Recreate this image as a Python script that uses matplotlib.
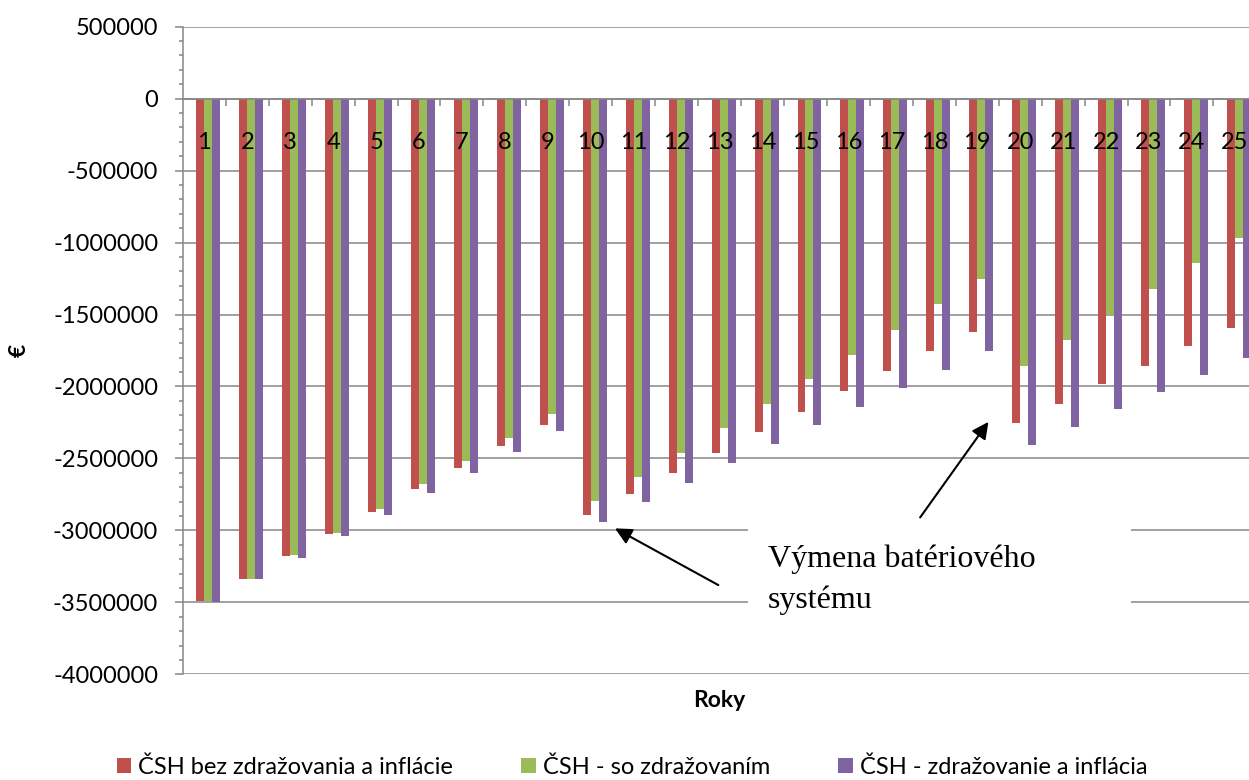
import numpy as np
import matplotlib
matplotlib.use('Agg')
from matplotlib import pyplot as plt
from matplotlib.patches import Rectangle
from matplotlib.ticker import MultipleLocator, FixedLocator, FixedFormatter, NullFormatter, FuncFormatter

roky = list(range(1, 26))

# hodnoty odcitane z grafu (EUR)
bez_zdrazovania = [-3490000, -3335000, -3180000, -3025000, -2870000, -2715000, -2565000, -2415000, -2270000,
                   -2895000, -2745000, -2600000, -2460000, -2315000, -2175000, -2030000, -1895000, -1755000,
                   -1620000, -2255000, -2120000, -1985000, -1855000, -1720000, -1595000]
so_zdrazovanim = [-3490000, -3335000, -3170000, -3015000, -2850000, -2680000, -2520000, -2355000, -2190000,
                  -2795000, -2630000, -2460000, -2290000, -2125000, -1950000, -1780000, -1605000, -1430000,
                  -1255000, -1855000, -1680000, -1505000, -1325000, -1145000, -965000]
zdrazovanie_inflacia = [-3495000, -3340000, -3190000, -3040000, -2890000, -2740000, -2600000, -2455000, -2310000,
                        -2945000, -2805000, -2670000, -2535000, -2400000, -2265000, -2140000, -2010000, -1885000,
                        -1755000, -2405000, -2280000, -2160000, -2040000, -1920000, -1805000]

nazvy = ['ČSH bez zdražovania a inflácie', 'ČSH - so zdražovaním', 'ČSH - zdražovanie a inflácia']
farby = ['#C0504D', '#9BBB59', '#8064A2']
seda = '#868686'

plt.rcParams['font.family'] = ['Lato', 'DejaVu Sans']
plt.rcParams['axes.unicode_minus'] = False

fig = plt.figure(figsize=(12.49, 7.8), dpi=100)
ax = fig.add_axes([0.1464, 0.1355, 0.8595, 0.8303])   # prava strana presahuje obrazok

x = np.array(roky)
w = 0.186
posun = 0.093
for i, (hodnoty, nazov, farba) in enumerate(zip([bez_zdrazovania, so_zdrazovanim, zdrazovanie_inflacia], nazvy, farby)):
    ax.bar(x + posun + (i - 1) * w, hodnoty, w, color=farba, label=nazov, zorder=2)

ax.set_xlim(0.5, 25.5)
ax.set_ylim(-4000000, 500000)
ax.yaxis.set_major_locator(MultipleLocator(500000))
ax.yaxis.set_minor_locator(MultipleLocator(100000))
ax.yaxis.set_major_formatter(FuncFormatter(lambda v, p: '%d' % v))
ax.grid(axis='y', which='major', color=seda, lw=1.1)
ax.set_axisbelow(True)
ax.xaxis.set_zorder(3)   # cisla rokov nad stlpcami

for s in ['top', 'right']:
    ax.spines[s].set_visible(False)
ax.spines['left'].set_color(seda)
ax.spines['left'].set_linewidth(1.1)
ax.spines['bottom'].set_position(('data', 0))
ax.spines['bottom'].set_color(seda)
ax.spines['bottom'].set_linewidth(1.1)

ax.xaxis.set_major_locator(FixedLocator(x + 0.5))
ax.xaxis.set_major_formatter(NullFormatter())
ax.xaxis.set_minor_locator(FixedLocator(x))
ax.xaxis.set_minor_formatter(FixedFormatter([str(r) for r in roky]))
ax.tick_params(axis='x', which='major', length=4.8, width=1.1, color=seda, direction='out')
ax.tick_params(axis='x', which='minor', length=0, pad=24, labelsize=17)
ax.tick_params(axis='y', which='major', length=5.8, width=1.1, color=seda, pad=12, labelsize=17)
ax.tick_params(axis='y', which='minor', length=2.9, width=1.1, color=seda)

ax.set_xlabel('Roky', fontsize=16.5, fontweight='bold')
ax.xaxis.set_label_coords(0.5, -0.024)
ax.set_ylabel('€', fontsize=16.5, fontweight='bold')
ax.yaxis.set_label_coords(-0.1423, 0.5)

# popis s bielym pozadim
ax.add_patch(Rectangle((13.66, -3762000), 8.92, 834000, facecolor='white', edgecolor='none', zorder=1))
ax.text(14.13, -3100000, 'Výmena batériového\nsystému', family=['Liberation Serif', 'DejaVu Serif'],
        fontsize=23, va='top', ha='left', linespacing=1.5, zorder=3)

sipka = dict(arrowstyle='-|>,head_length=0.5,head_width=0.25', color='black', lw=1.5,
             mutation_scale=20, shrinkA=0, shrinkB=0)
ax.annotate('', xy=(10.565, -2986000), xytext=(12.97, -3380000), arrowprops=sipka, zorder=4)
ax.annotate('', xy=(19.26, -2246000), xytext=(17.67, -2910000), arrowprops=sipka, zorder=4)

fig.legend(loc='center', bbox_to_anchor=(632 / 1249, 1 - 767 / 780), ncol=3, frameon=False, fontsize=17,
           handlelength=0.6, handleheight=0.6, handletextpad=0.3, columnspacing=2.9)

fig.savefig('out.png', dpi=100)
